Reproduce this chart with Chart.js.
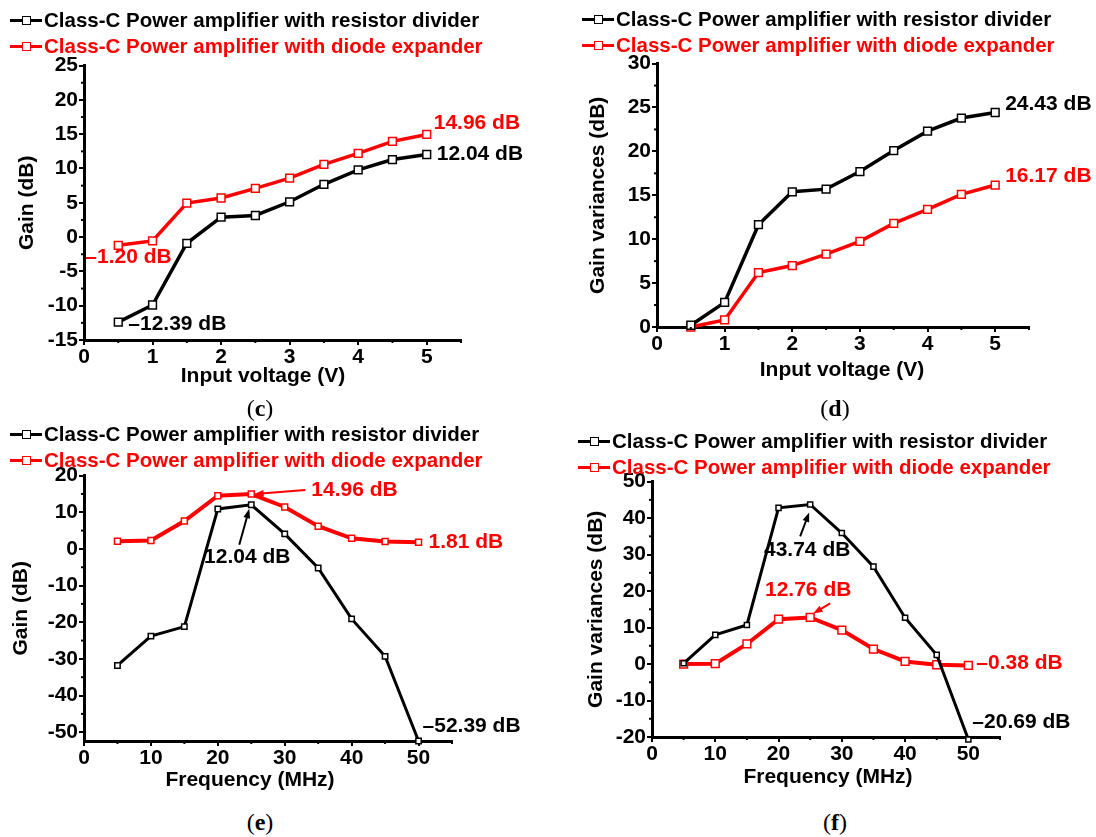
<!DOCTYPE html>
<html>
<head>
<meta charset="utf-8">
<script src="https://cdn.jsdelivr.net/npm/chart.js@4/dist/chart.umd.min.js"></script>
<style>
    body { margin: 0; background: #fff; width: 1096px; height: 837px; position: relative; overflow: hidden;
           font-family: "Liberation Sans", Arial, sans-serif; }
    canvas { position: absolute; }
    .legenda { position: absolute; font-weight: bold; font-size: 20.5px; white-space: nowrap; }
    .item { display: flex; align-items: center; height: 26px; }
    .traco { position: relative; width: 32px; height: 3px; margin-right: 2px; }
    .traco i { position: absolute; left: 12px; top: -3px; width: 9px; height: 9px; border: 1.5px solid;
               background: #fff; box-sizing: border-box; }
    .rotulo { position: absolute; font-family: "Liberation Serif", serif; font-size: 24px; transform: translate(-50%, -50%); }
</style>
</head>
<body>

<canvas id="graficoC" width="548" height="343" style="left:0;top:52px"></canvas>
<canvas id="graficoD" width="526" height="345" style="left:570px;top:50px"></canvas>
<canvas id="graficoE" width="548" height="338" style="left:0;top:462px"></canvas>
<canvas id="graficoF" width="526" height="332" style="left:570px;top:468px"></canvas>

<div class="legenda" style="left:10px;top:7px">
    <div class="item"><span class="traco" style="background:#000"><i style="border-color:#000"></i></span>Class-C Power amplifier with resistor divider</div>
    <div class="item" style="color:#f00"><span class="traco" style="background:#f00"><i style="border-color:#f00"></i></span>Class-C Power amplifier with diode expander</div>
</div>
<div class="legenda" style="left:582px;top:6px">
    <div class="item"><span class="traco" style="background:#000"><i style="border-color:#000"></i></span>Class-C Power amplifier with resistor divider</div>
    <div class="item" style="color:#f00"><span class="traco" style="background:#f00"><i style="border-color:#f00"></i></span>Class-C Power amplifier with diode expander</div>
</div>
<div class="legenda" style="left:10px;top:421px">
    <div class="item"><span class="traco" style="background:#000"><i style="border-color:#000"></i></span>Class-C Power amplifier with resistor divider</div>
    <div class="item" style="color:#f00"><span class="traco" style="background:#f00"><i style="border-color:#f00"></i></span>Class-C Power amplifier with diode expander</div>
</div>
<div class="legenda" style="left:578px;top:428px">
    <div class="item"><span class="traco" style="background:#000"><i style="border-color:#000"></i></span>Class-C Power amplifier with resistor divider</div>
    <div class="item" style="color:#f00"><span class="traco" style="background:#f00"><i style="border-color:#f00"></i></span>Class-C Power amplifier with diode expander</div>
</div>

<div class="rotulo" style="left:260px;top:408px">(<b>c</b>)</div>
<div class="rotulo" style="left:835px;top:408px">(<b>d</b>)</div>
<div class="rotulo" style="left:260px;top:822px">(<b>e</b>)</div>
<div class="rotulo" style="left:835px;top:822px">(<b>f</b>)</div>

<script>
// Eixos X
const tensoes = [0.5, 1, 1.5, 2, 2.5, 3, 3.5, 4, 4.5, 5];
const frequencias = [5, 10, 15, 20, 25, 30, 35, 40, 45, 50];

// (c) ganho x tensão
const ganhoResistorV = [-12.39, -9.9, -0.9, 2.9, 3.15, 5.15, 7.7, 9.8, 11.3, 12.04];
const ganhoDiodoV = [-1.20, -0.55, 4.95, 5.7, 7.1, 8.6, 10.6, 12.2, 13.95, 14.96];
// (d) variação de ganho x tensão
const variacaoResistorV = [0.2, 2.8, 11.65, 15.4, 15.7, 17.7, 20.1, 22.3, 23.8, 24.43];
const variacaoDiodoV = [0, 0.8, 6.2, 7.0, 8.3, 9.75, 11.8, 13.4, 15.1, 16.17];
// (e) ganho x frequência
const ganhoResistorF = [-31.8, -23.8, -21.2, 10.9, 12.04, 4.1, -5.2, -19.1, -29.3, -52.39];
const ganhoDiodoF = [2.1, 2.3, 7.6, 14.5, 14.96, 11.45, 6.2, 2.9, 2.0, 1.81];
// (f) variação de ganho x frequência
const variacaoResistorF = [0.2, 8.0, 10.7, 42.8, 43.74, 35.9, 26.7, 12.7, 2.5, -20.69];
const variacaoDiodoF = [0, 0.1, 5.5, 12.3, 12.76, 9.3, 4.1, 0.7, -0.2, -0.38];

// Marcas dos eixos
const ticksTensao = [0, 1, 2, 3, 4, 5];
const ticksFreq = [0, 10, 20, 30, 40, 50];
const ticksGanhoV = [-15, -10, -5, 0, 5, 10, 15, 20, 25];
const ticksVariacaoV = [0, 5, 10, 15, 20, 25, 30];
const ticksGanhoF = [-50, -40, -30, -20, -10, 0, 10, 20];
const ticksVariacaoF = [-20, -10, 0, 10, 20, 30, 40, 50];

const FONTE = '"Liberation Sans", Arial, sans-serif';
Chart.defaults.font.family = FONTE;
Chart.defaults.color = '#000';

function pontos(xs, ys) {
    return xs.map((x, i) => ({ x: x, y: ys[i] }));
}

function desenharSeta(ctx, x1, y1, x2, y2, cor) {
    const ang = Math.atan2(y2 - y1, x2 - x1);
    ctx.strokeStyle = cor;
    ctx.fillStyle = cor;
    ctx.lineWidth = 2;
    ctx.beginPath();
    ctx.moveTo(x1, y1);
    ctx.lineTo(x2 - 7 * Math.cos(ang), y2 - 7 * Math.sin(ang));
    ctx.stroke();
    ctx.beginPath();
    ctx.moveTo(x2, y2);
    ctx.lineTo(x2 - 10 * Math.cos(ang - 0.35), y2 - 10 * Math.sin(ang - 0.35));
    ctx.lineTo(x2 - 10 * Math.cos(ang + 0.35), y2 - 10 * Math.sin(ang + 0.35));
    ctx.closePath();
    ctx.fill();
}

// Marcas menores, título do eixo X e textos de anotação
function pluginExtras(cfg) {
    return {
        id: 'extras',
        afterDraw(chart) {
            const ctx = chart.ctx;
            const sx = chart.scales.x, sy = chart.scales.y;
            const area = chart.chartArea;
            ctx.save();
            ctx.strokeStyle = '#000';
            ctx.lineWidth = 2;
            for (let v = sx.min + cfg.passoX; v <= sx.max + 1e-6; v += cfg.passoX * 2) {
                const p = sx.getPixelForValue(v);
                ctx.beginPath(); ctx.moveTo(p, area.bottom); ctx.lineTo(p, area.bottom + 3); ctx.stroke();
            }
            for (let v = Math.ceil(sy.min / cfg.passoY) * cfg.passoY; v < sy.max; v += cfg.passoY) {
                if (Math.round(v / cfg.passoY) % 2 === 0) continue;
                const p = sy.getPixelForValue(v);
                ctx.beginPath(); ctx.moveTo(area.left, p); ctx.lineTo(area.left - 3, p); ctx.stroke();
            }
            // título do eixo X
            ctx.font = 'bold 21px ' + FONTE;
            ctx.fillStyle = '#000';
            ctx.textAlign = 'center';
            ctx.textBaseline = 'middle';
            ctx.fillText(cfg.tituloX, cfg.posTituloX[0], cfg.posTituloX[1]);

            cfg.anotacoes.forEach(a => {
                const px = sx.getPixelForValue(a.x), py = sy.getPixelForValue(a.y);
                if (a.seta) desenharSeta(ctx, px + a.seta[0], py + a.seta[1], px + a.seta[2], py + a.seta[3], a.cor);
                ctx.font = 'bold 21px ' + FONTE;
                ctx.fillStyle = a.cor;
                ctx.textAlign = a.alinhar || 'left';
                ctx.textBaseline = 'middle';
                ctx.fillText(a.texto, px + a.dx, py + a.dy);
            });
            ctx.restore();
        }
    };
}

function criarGrafico(id, cfg) {
    const fonteTick = { size: 21, weight: 'bold' };
    const fonteTitulo = { size: 21, weight: 'bold' };
    return new Chart(document.getElementById(id), {
        type: 'line',
        data: {
            datasets: [
                {
                    data: pontos(cfg.xs, cfg.preto),
                    borderColor: '#000', borderWidth: cfg.largPreto,
                    pointStyle: 'rect', pointRadius: cfg.raioPreto, pointBorderWidth: 1.5,
                    pointBackgroundColor: '#fff', pointBorderColor: '#000', clip: 12
                },
                {
                    data: pontos(cfg.xs, cfg.vermelho),
                    borderColor: '#f00', borderWidth: cfg.largVermelho,
                    pointStyle: 'rect', pointRadius: cfg.raioVermelho, pointBorderWidth: 1.5,
                    pointBackgroundColor: '#fff', pointBorderColor: '#f00', clip: 12
                }
            ]
        },
        options: {
            responsive: false,
            animation: false,
            devicePixelRatio: 1,
            layout: { padding: { top: cfg.padTopo, right: cfg.padDireita, left: 0, bottom: 0 } },
            plugins: { legend: { display: false }, tooltip: { enabled: false } },
            elements: { line: { tension: 0 } },
            scales: {
                x: {
                    type: 'linear', min: cfg.xMin, max: cfg.xMax,
                    afterBuildTicks: s => { s.ticks = cfg.ticksX.map(v => ({ value: v })); },
                    afterFit: s => { s.height = cfg.alturaX; },
                    grid: { drawOnChartArea: false, color: '#000', lineWidth: 2, tickLength: 5 },
                    border: { color: '#000', width: 3 },
                    ticks: { font: fonteTick, padding: 0, maxRotation: 0, autoSkip: false }
                },
                y: {
                    type: 'linear', min: cfg.yMin, max: cfg.yMax,
                    afterBuildTicks: s => { s.ticks = cfg.ticksY.map(v => ({ value: v })); },
                    afterFit: s => { s.width = cfg.larguraY; },
                    grid: { drawOnChartArea: false, color: '#000', lineWidth: 2, tickLength: 5 },
                    border: { color: '#000', width: 3 },
                    ticks: { font: fonteTick, padding: 1, autoSkip: false },
                    title: { display: true, text: cfg.tituloY, font: fonteTitulo, padding: { top: cfg.padTituloY } }
                }
            }
        },
        plugins: [pluginExtras(cfg)]
    });
}

// (c)
criarGrafico('graficoC', {
    xs: tensoes, preto: ganhoResistorV, vermelho: ganhoDiodoV,
    xMin: 0, xMax: 5.5, yMin: -15, yMax: 25, ticksX: ticksTensao, ticksY: ticksGanhoV,
    passoX: 0.5, passoY: 2.5,
    tituloX: 'Input voltage (V)', tituloY: 'Gain (dB)', posTituloX: [263, 324],
    padTopo: 2, padDireita: 87, larguraY: 84, alturaX: 55, padTituloY: 15,
    largPreto: 3.5, largVermelho: 3.5, raioPreto: 5.5, raioVermelho: 5.5,
    anotacoes: [
        { x: 5, y: 14.96, texto: '14.96 dB', cor: '#f00', dx: 7, dy: -11 },
        { x: 5, y: 12.04, texto: '12.04 dB', cor: '#000', dx: 10, dy: 0 },
        { x: 0.5, y: -1.20, texto: '\u20131.20 dB', cor: '#f00', dx: -33, dy: 12 },
        { x: 0.5, y: -12.39, texto: '\u201312.39 dB', cor: '#000', dx: 10, dy: 2 }
    ]
});

// (d)
criarGrafico('graficoD', {
    xs: tensoes, preto: variacaoResistorV, vermelho: variacaoDiodoV,
    xMin: 0, xMax: 5.5, yMin: 0, yMax: 30, ticksX: ticksTensao, ticksY: ticksVariacaoV,
    passoX: 0.5, passoY: 2.5,
    tituloX: 'Input voltage (V)', tituloY: 'Gain variances (dB)', posTituloX: [272, 320],
    padTopo: 2, padDireita: 67, larguraY: 87, alturaX: 68, padTituloY: 16,
    largPreto: 3.5, largVermelho: 3.5, raioPreto: 5.5, raioVermelho: 5.5,
    anotacoes: [
        { x: 5, y: 24.43, texto: '24.43 dB', cor: '#000', dx: 10, dy: -8 },
        { x: 5, y: 16.17, texto: '16.17 dB', cor: '#f00', dx: 10, dy: -9 }
    ]
});

// (e)
criarGrafico('graficoE', {
    xs: frequencias, preto: ganhoResistorF, vermelho: ganhoDiodoF,
    xMin: 0, xMax: 55, yMin: -52.4, yMax: 20, ticksX: ticksFreq, ticksY: ticksGanhoF,
    passoX: 5, passoY: 5,
    tituloX: 'Frequency (MHz)', tituloY: 'Gain (dB)', posTituloX: [250, 318],
    padTopo: 7, padDireita: 96, larguraY: 84, alturaX: 59, padTituloY: 9,
    largPreto: 3, largVermelho: 4, raioPreto: 3.8, raioVermelho: 4.2,
    anotacoes: [
        { x: 25, y: 14.96, texto: '14.96 dB', cor: '#f00', dx: 60, dy: -4, seta: [54, -4, 3, 0] },
        { x: 25, y: 12.04, texto: '12.04 dB', cor: '#000', dx: -4, dy: 52, alinhar: 'center', seta: [-12, 40, -2, 4] },
        { x: 50, y: 1.81, texto: '1.81 dB', cor: '#f00', dx: 10, dy: 0 },
        { x: 50, y: -52.39, texto: '\u201352.39 dB', cor: '#000', dx: 4, dy: -15 }
    ]
});

// (f)
criarGrafico('graficoF', {
    xs: frequencias, preto: variacaoResistorF, vermelho: variacaoDiodoF,
    xMin: 0, xMax: 55, yMin: -20, yMax: 50, ticksX: ticksFreq, ticksY: ticksVariacaoF,
    passoX: 5, passoY: 5,
    tituloX: 'Frequency (MHz)', tituloY: 'Gain variances (dB)', posTituloX: [258, 309],
    padTopo: 11, padDireita: 96, larguraY: 82, alturaX: 63, padTituloY: 14,
    largPreto: 3, largVermelho: 4, raioPreto: 3.6, raioVermelho: 5.5,
    anotacoes: [
        { x: 25, y: 43.74, texto: '43.74 dB', cor: '#000', dx: -3, dy: 46, alinhar: 'center', seta: [-10, 32, -1, 8] },
        { x: 25, y: 12.76, texto: '12.76 dB', cor: '#f00', dx: -2, dy: -27, alinhar: 'center', seta: [20, -14, 3, -4] },
        { x: 50, y: -0.38, texto: '\u20130.38 dB', cor: '#f00', dx: 8, dy: -2 },
        { x: 50, y: -20.69, texto: '\u201320.69 dB', cor: '#000', dx: 4, dy: -17 }
    ]
});
</script>
</body>
</html>
